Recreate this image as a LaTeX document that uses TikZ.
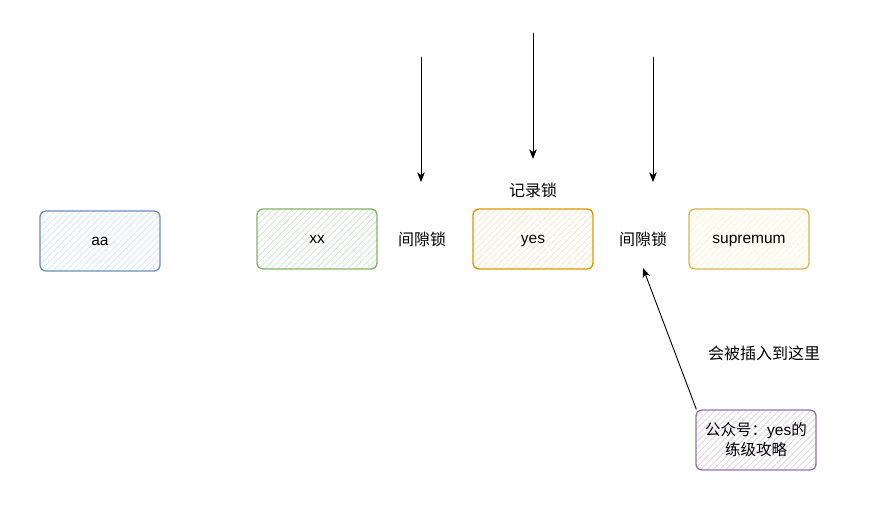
\documentclass[tikz,border=0pt]{standalone}
\usepackage{fontspec}
\setmainfont{Liberation Sans}
\newfontfamily\cjk{Noto Sans CJK SC}
\usetikzlibrary{arrows.meta,patterns.meta}
\tikzset{
  hbox/.style={draw=#1, line width=1.3pt, rounded corners=6pt, minimum width=120pt, minimum height=60pt, inner sep=0pt, font=\fontsize{15.5}{18}\selectfont, text height=10pt, text depth=1.5pt},
  lbl/.style={inner sep=0pt, font=\fontsize{16}{18}\selectfont\cjk},
  arr/.style={draw=black, line width=0.9pt, -{Stealth[length=9.5pt,width=7.5pt,inset=2.5pt]}},
  hatch/.style={pattern={Lines[angle=45,distance=4.5pt,line width=0.9pt]}, pattern color=#1}
}
\definecolor{bstroke}{HTML}{6C8EBF}\definecolor{bfill}{HTML}{DAE8FC}
\definecolor{gstroke}{HTML}{82B366}\definecolor{gfill}{HTML}{D5E8D4}
\definecolor{ostroke}{HTML}{D79B00}\definecolor{ofill}{HTML}{FFE6CC}
\definecolor{ystroke}{HTML}{D6B656}\definecolor{yfill}{HTML}{FFF2CC}
\definecolor{pstroke}{HTML}{9673A6}\definecolor{pfill}{HTML}{E1D5E7}
\begin{document}
\begin{tikzpicture}[x=1pt,y=-1pt]
\useasboundingbox (0,0) rectangle (879,521);
\node[hbox=bstroke, hatch=bfill] (aa) at (100,241) {aa};
\node[hbox=gstroke, hatch=gfill] (xx) at (317,239) {xx};
\node[hbox=ostroke, hatch=ofill] (yes) at (533,239) {yes};
\node[hbox=ystroke, hatch=yfill] (sup) at (749,239) {supremum};
\node[hbox=pstroke, hatch=pfill, align=center, font=\fontsize{15.5}{20}\selectfont, text height=, text depth=] (gzh) at (756,440) {{\cjk 公众号：}yes{\cjk 的}\\{\cjk 练级攻略}};
\node[lbl] (gap1) at (422,239) {间隙锁};
\node[lbl] (rec) at (533,190) {记录锁};
\node[lbl] (gap2) at (643,239) {间隙锁};
\node[lbl] (ins) at (764,353) {会被插入到这里};
\coordinate (s1) at (421,57); \coordinate (e1) at (421,182);
\coordinate (s2) at (533,33); \coordinate (e2) at (533,159);
\coordinate (s3) at (653,57); \coordinate (e3) at (653,182);
\coordinate (e4) at (643,268);
\draw[arr] (s1) -- (e1);
\draw[arr] (s2) -- (e2);
\draw[arr] (s3) -- (e3);
\draw[arr] (gzh.north west) ++(1,0) -- (e4);
\end{tikzpicture}
\end{document}
